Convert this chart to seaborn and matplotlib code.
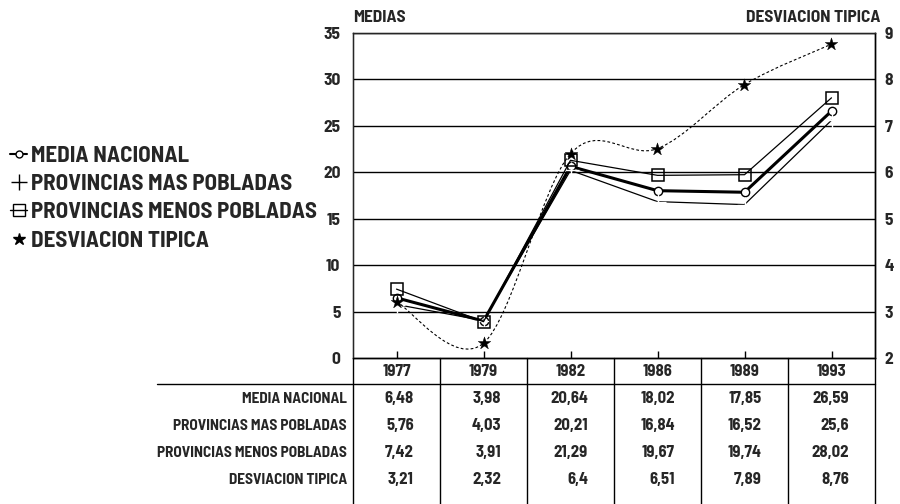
"""Medias y desviacion tipica por provincias, 1977-1993."""

import matplotlib.pyplot as plt
import numpy as np
import pandas as pd
import seaborn as sns
from matplotlib.lines import Line2D
from matplotlib.path import Path
from matplotlib.patches import PathPatch

years = ["1977", "1979", "1982", "1986", "1989", "1993"]
media_nacional = [6.48, 3.98, 20.64, 18.02, 17.85, 26.59]
mas_pobladas = [5.76, 4.03, 20.21, 16.84, 16.52, 25.6]
menos_pobladas = [7.42, 3.91, 21.29, 19.67, 19.74, 28.02]
desviacion = [3.21, 2.32, 6.4, 6.51, 7.89, 8.76]
table_text = [
    ["6,48", "3,98", "20,64", "18,02", "17,85", "26,59"],
    ["5,76", "4,03", "20,21", "16,84", "16,52", "25,6"],
    ["7,42", "3,91", "21,29", "19,67", "19,74", "28,02"],
    ["3,21", "2,32", "6,4", "6,51", "7,89", "8,76"],
]
row_labels = ["MEDIA NACIONAL", "PROVINCIAS MAS POBLADAS",
              "PROVINCIAS MENOS POBLADAS", "DESVIACION TIPICA"]

sns.set_style("white")
plt.rcParams["font.family"] = ["Barlow Semi Condensed", "Liberation Sans", "DejaVu Sans"]
plt.rcParams["font.weight"] = "bold"

W, H = 900, 504
fig = plt.figure(figsize=(9, 5.04), dpi=100)
left, right, top, bottom = 353, 875, 33, 358
ax = fig.add_axes([left / W, 1 - bottom / H, (right - left) / W, (bottom - top) / H])

x = np.arange(len(years))
df = pd.DataFrame({"x": x, "media": media_nacional, "mas": mas_pobladas,
                   "menos": menos_pobladas, "desv": desviacion})

sns.lineplot(data=df, x="x", y="media", ax=ax, color="black", lw=2.2,
             marker="o", markersize=6, markerfacecolor="white",
             markeredgecolor="black", markeredgewidth=1)
sns.lineplot(data=df, x="x", y="mas", ax=ax, color="black", lw=0.9,
             marker="+", markersize=11, markeredgewidth=1)
sns.lineplot(data=df, x="x", y="menos", ax=ax, color="black", lw=0.9,
             marker="s", markersize=8, markerfacecolor="none",
             markeredgecolor="black", markeredgewidth=1.1)

ax.set_xlim(-0.5, len(years) - 0.5)
ax.set_ylim(0, 35)
ax.set_yticks(range(0, 36, 5))
ax.yaxis.grid(True, color="black", lw=1)
ax.set_xticks(x)
ax.set_xticklabels([])
ax.tick_params(axis="x", direction="in", length=5, width=1, color="black", bottom=True)
ax.tick_params(axis="y", length=0, pad=9, labelsize=12.5)
ax.set_xlabel("")
ax.set_ylabel("")
for s in ax.spines.values():
    s.set_color("black")
    s.set_linewidth(1)

# right axis: desviacion tipica with a smooth dashed curve
ax2 = ax.twinx()
ax2.set_ylim(2, 9)
ax2.set_yticks(range(2, 10))
ax2.tick_params(axis="y", length=0, pad=7, labelsize=12.5)
ax2.spines["right"].set_linewidth(1)
ax2.spines["right"].set_color("black")

p = np.column_stack([x, desviacion]).astype(float)
pp = np.vstack([p[0], p, p[-1]])
verts = [tuple(p[0])]
codes = [Path.MOVETO]
for i in range(len(p) - 1):
    c1 = pp[i + 1] + (pp[i + 2] - pp[i]) / 6
    c2 = pp[i + 2] - (pp[i + 3] - pp[i + 1]) / 6
    verts += [tuple(c1), tuple(c2), tuple(p[i + 1])]
    codes += [Path.CURVE4] * 3
ax2.add_patch(PathPatch(Path(verts, codes), fill=False, color="black",
                        lw=0.8, linestyle=(0, (2.5, 2))))
sns.scatterplot(data=df, x="x", y="desv", ax=ax2, marker="*", s=90,
                color="black", edgecolor="black", linewidth=0.3, zorder=5)
ax2.set_xlabel("")
ax2.set_ylabel("")

fig.text(left / W, 1 - 17 / H, "MEDIAS", fontsize=12.5, va="center", ha="left")
fig.text((right + 5) / W, 1 - 17 / H, "DESVIACION TIPICA", fontsize=12.5,
         va="center", ha="right")

# legend
handles = [
    Line2D([], [], color="black", lw=1.5, marker="o", markersize=5,
           markerfacecolor="white"),
    Line2D([], [], color="black", lw=0, marker="+", markersize=12, markeredgewidth=1),
    Line2D([], [], color="black", lw=1, marker="s", markersize=8,
           markerfacecolor="none"),
    Line2D([], [], color="black", lw=0, marker="*", markersize=9),
]
fig.legend(handles, row_labels, loc="upper left", bbox_to_anchor=(-0.004, 1 - 132 / H),
           frameon=False, handlelength=0.75, handletextpad=0.15,
           labelspacing=0.36, fontsize=16.5, borderaxespad=0.2)

# data table under the chart
tab = fig.add_axes([left / W, 0, (right - left) / W, (H - bottom) / H])
tab.set_xlim(-0.5, len(years) - 0.5)
tab.set_ylim(5.4, 0)
tab.axis("off")
for xb in np.arange(-0.5, len(years), 1.0):
    tab.plot([xb, xb], [0, 5.4], color="black", lw=1, clip_on=False)
tab.plot([-0.5, len(years) - 0.5], [0, 0], color="black", lw=1)
tab.plot([-2.75, len(years) - 0.5], [0.95, 0.95], color="black", lw=1, clip_on=False)
for i, yr in enumerate(years):
    tab.text(i, 0.5, yr, ha="center", va="center", fontsize=12)
for r, (lab, vals) in enumerate(zip(row_labels, table_text)):
    yy = 1.5 + r
    tab.text(-0.57, yy, lab, ha="right", va="center", fontsize=11, clip_on=False)
    for i, v in enumerate(vals):
        tab.text(i + 0.2, yy, v, ha="right", va="center", fontsize=12)

fig.savefig("out.png", dpi=100)
